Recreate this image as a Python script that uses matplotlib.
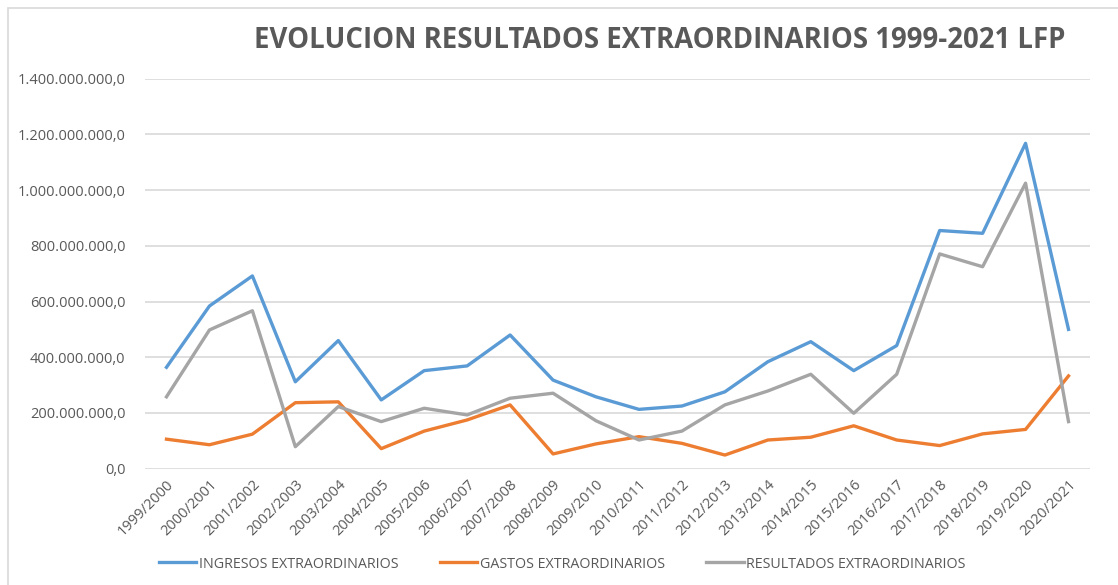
import matplotlib
matplotlib.use('Agg')
from matplotlib import pyplot as plt
from matplotlib.ticker import FuncFormatter, MultipleLocator
from matplotlib.patches import Rectangle

# temporadas y valores (euros)
temporadas = ['1999/2000', '2000/2001', '2001/2002', '2002/2003', '2003/2004',
              '2004/2005', '2005/2006', '2006/2007', '2007/2008', '2008/2009',
              '2009/2010', '2010/2011', '2011/2012', '2012/2013', '2013/2014',
              '2014/2015', '2015/2016', '2016/2017', '2017/2018', '2018/2019',
              '2019/2020', '2020/2021']

ingresos = [364e6, 584e6, 692e6, 312e6, 460e6, 247e6, 352e6, 369e6, 480e6, 318e6,
            258e6, 213e6, 225e6, 276e6, 384e6, 456e6, 352e6, 442e6, 855e6, 845e6,
            1168e6, 500e6]
gastos = [106e6, 86e6, 124e6, 237e6, 240e6, 72e6, 135e6, 175e6, 229e6, 53e6,
          89e6, 115e6, 91e6, 49e6, 103e6, 113e6, 154e6, 103e6, 83e6, 125e6,
          141e6, 333e6]
resultados = [258e6, 498e6, 567e6, 79e6, 223e6, 169e6, 217e6, 193e6, 253e6, 271e6,
              172e6, 103e6, 135e6, 229e6, 279e6, 339e6, 199e6, 339e6, 771e6, 725e6,
              1025e6, 169e6]

nombres = ['INGRESOS EXTRAORDINARIOS', 'GASTOS EXTRAORDINARIOS', 'RESULTADOS EXTRAORDINARIOS']
colores = ['#5B9BD5', '#ED7D31', '#A5A5A5']

gris_texto = '#595959'
plt.rcParams['font.family'] = ['Open Sans', 'DejaVu Sans']


def formato_es(v, pos):
    # 1.400.000.000,0
    return '{:,.0f}'.format(v).replace(',', '.') + ',0'


fig = plt.figure(figsize=(11.18, 5.85), dpi=100)
fig.patches.append(Rectangle((8 / 1118, -0.05), 1.1, 1 - 7.5 / 585 + 0.05,
                             transform=fig.transFigure, fill=False,
                             edgecolor='#D9D9D9', linewidth=1.2))

ax = fig.add_axes([145 / 1118, 1 - 468.7 / 585, 945 / 1118, 390 / 585])
x = range(len(temporadas))
for serie, nombre, color in zip([ingresos, gastos, resultados], nombres, colores):
    ax.plot(x, serie, color=color, linewidth=2.4, label=nombre, zorder=3)

ax.set_xlim(-0.5, len(temporadas) - 0.5)
ax.set_ylim(0, 1.4e9)
ax.yaxis.set_major_locator(MultipleLocator(2e8))
ax.yaxis.set_major_formatter(FuncFormatter(formato_es))
ax.set_xticks(list(x))
ax.set_xticklabels(temporadas, rotation=45, ha='right', rotation_mode='anchor')
ax.tick_params(axis='both', length=0, labelsize=10.5, colors=gris_texto)
ax.tick_params(axis='y', pad=14)
ax.tick_params(axis='x', pad=6)
ax.grid(axis='y', color='#D9D9D9', linewidth=1.2)
ax.set_axisbelow(True)
for s in ax.spines.values():
    s.set_visible(False)

fig.text(0.59, 1 - 40 / 585, 'EVOLUCION RESULTADOS EXTRAORDINARIOS 1999-2021 LFP',
         ha='center', va='center', fontsize=19.8, fontweight='bold', color=gris_texto)

fig.legend(loc='center', bbox_to_anchor=(0.503, 1 - 564 / 585), ncol=3, frameon=False,
           fontsize=10.3, labelcolor=gris_texto, handlelength=2.6, handletextpad=0.2,
           columnspacing=2.9)

fig.savefig('out.png', dpi=100)
